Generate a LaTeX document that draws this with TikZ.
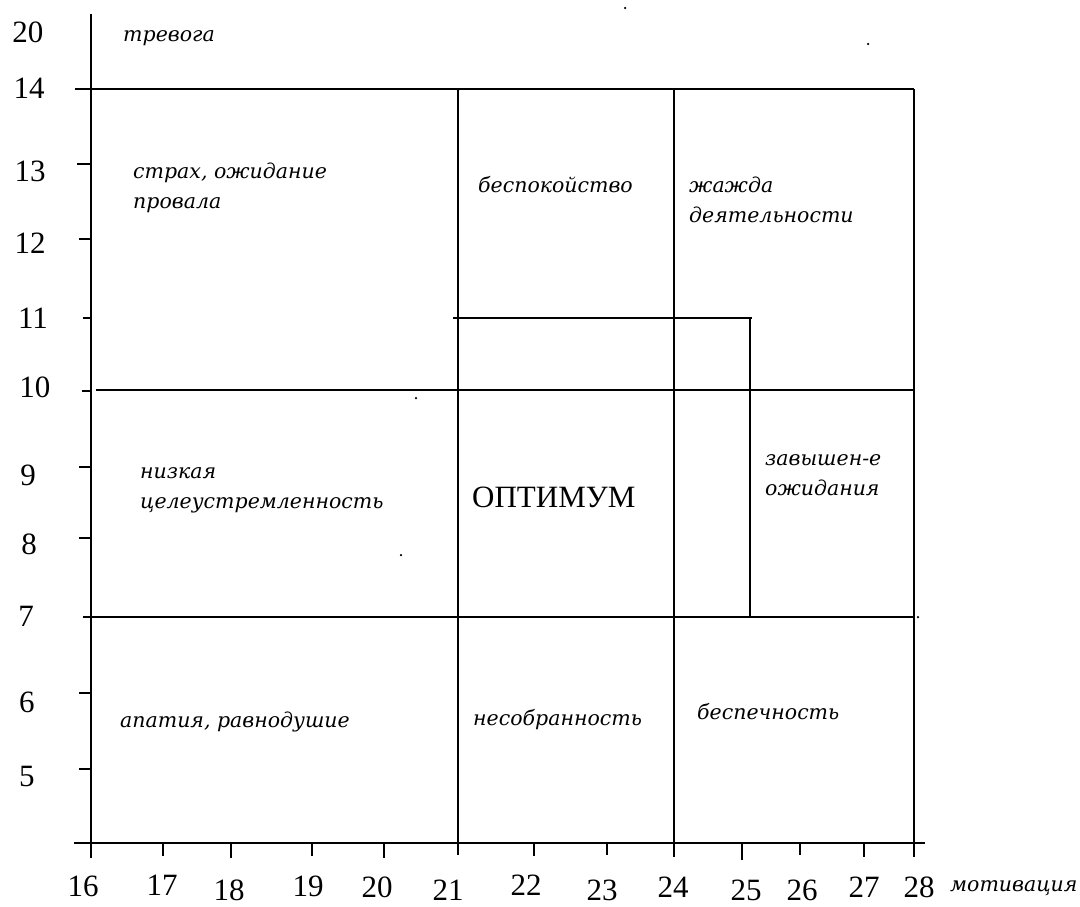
\documentclass[tikz,border=0pt]{standalone}
\usepackage{fontspec}
\setmainfont{Liberation Serif}
\newfontfamily\lblfont{DejaVu Serif}
\begin{document}
\begin{tikzpicture}[x=1pt,y=-1pt,
  axis/.style={line width=1.8pt, line cap=rect},
  grid/.style={line width=1.8pt},
  tck/.style={line width=1.6pt},
  num/.style={font=\fontsize{31}{34}\selectfont, inner sep=0},
  lbl/.style={font=\lblfont\itshape\fontsize{20.5}{30}\selectfont, inner sep=0, anchor=west, align=left},
  dot/.style={fill=black, inner sep=0, minimum size=2.5pt, circle}]
\useasboundingbox[fill=white] (0,0) rectangle (1080,906);
% axes
\draw[axis] (91,15) -- (91,843);
\draw[axis] (75,843) -- (924,843);
% x ticks
\foreach \x/\l in {91/858,163/856,231/858,312/856,384/858,458/855,534/856,607/855,674/857,742/860,800/855,864/857,914/857}
  \draw[tck] (\x,843) -- (\x,\l);
% y ticks
\foreach \y/\s in {89/75,164/77,239/79,318/83,391/82,467/79,538/79,617/83,693/79,769/79}
  \draw[tck] (\s,\y) -- (91,\y);
% grid lines
\draw[grid] (91,89) -- (914,89);
\draw[grid] (96,390) -- (914,390);
\draw[grid] (89,617) -- (914,617);
\draw[grid] (458,89) -- (458,843);
\draw[grid] (674,89) -- (674,843);
\draw[grid] (914,89) -- (914,843);
\draw[grid] (453,318) -- (752,318);
\draw[grid] (750,318) -- (750,617);
% stray dots
\node[dot] (d1) at (625,8) {};
\node[dot] (d2) at (868,44) {};
\node[dot] (d3) at (416,398) {};
\node[dot] (d4) at (401,555) {};
\node[dot] (d5) at (918,617) {};
\node[dot] (d6) at (458,90) {};
% y labels
\node[num] (y20) at (28,32) {20};
\node[num] (y14) at (29,88) {14};
\node[num] (y13) at (30,171) {13};
\node[num] (y12) at (30,243) {12};
\node[num] (y11) at (33,318) {11};
\node[num] (y10) at (35,387) {10};
\node[num] (y9) at (28,475) {9};
\node[num] (y8) at (29,544) {8};
\node[num] (y7) at (26,616) {7};
\node[num] (y6) at (27,702) {6};
\node[num] (y5) at (27,776) {5};
% x labels
\foreach \x/\yy/\t in {83/886/16,162/885/17,229/890/18,308/886/19,377/887/20,448/890/21,526/885/22,602/890/23,673/887/24,746/890/25,802/890/26,864/887/27,919/887/28}
  \node[num] (x\t) at (\x,\yy) {\t};
\node[lbl] (mot) at (950,888) {мотивация};
% region labels
\node[lbl] (trev) at (123,38) {тревога};
\node[lbl] (strah) at (133,188) {страх, ожидание\\провала};
\node[lbl] (besp) at (478,185) {беспокойство};
\node[lbl] (zhazh) at (689,200) {жажда\\деятельности};
\node[lbl] (nizk) at (140,490) {низкая\\целеустремленность};
\node[font=\fontsize{31}{34}\selectfont, inner sep=0, anchor=west] (opt) at (472,497) {ОПТИМУМ};
\node[lbl] (zav) at (765,475) {завышен-е\\ожидания};
\node[lbl] (apat) at (120,722) {апатия, равнодушие};
\node[lbl] (nesob) at (473,720) {несобранность};
\node[lbl] (bespech) at (697,712) {беспечность};
\end{tikzpicture}
\end{document}
